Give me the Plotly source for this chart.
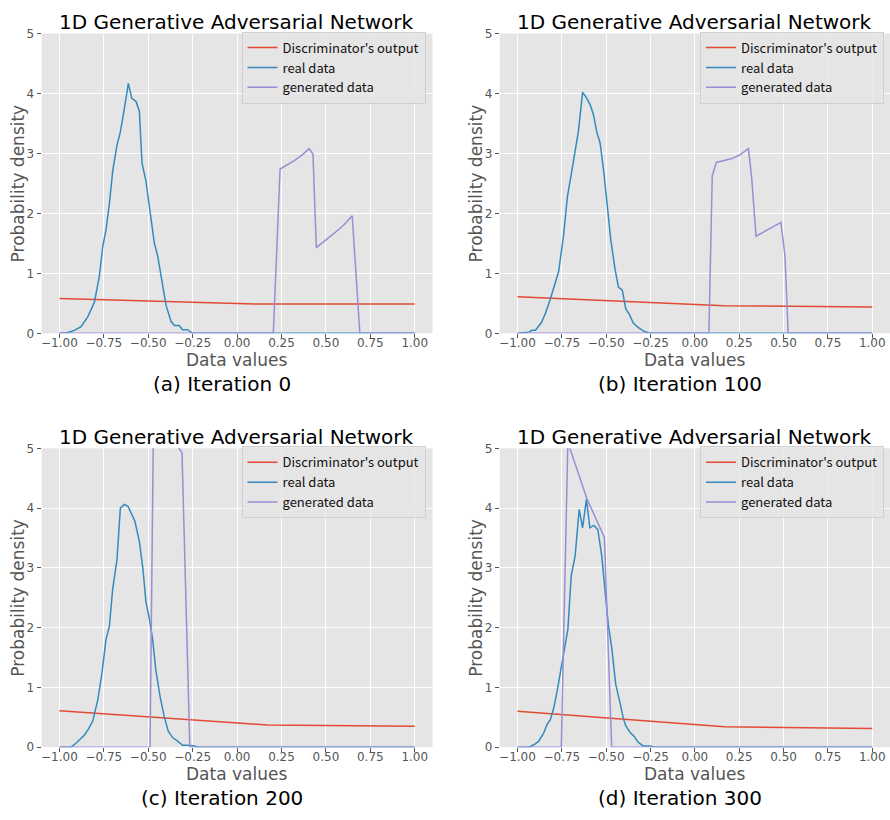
import plotly.graph_objects as go

# ---------------- data ----------------
# Panel (a) Iteration 0
real_x_a = [-1.0, -0.96, -0.934, -0.916, -0.878, -0.84, -0.803, -0.775, -0.756, -0.738, -0.719, -0.70,
            -0.676, -0.657, -0.635, -0.612, -0.593, -0.569, -0.55, -0.535, -0.513, -0.485, -0.466,
            -0.447, -0.419, -0.40, -0.372, -0.353, -0.326, -0.307, -0.279, -0.25, 1.0]
real_y_a = [0, 0.01, 0.03, 0.05, 0.11, 0.28, 0.52, 0.96, 1.45, 1.72, 2.16, 2.71,
            3.14, 3.36, 3.74, 4.17, 3.92, 3.87, 3.70, 2.84, 2.54, 1.94, 1.51,
            1.29, 0.80, 0.47, 0.20, 0.13, 0.13, 0.06, 0.06, 0, 0]
disc_x_a = [-1.0, 0.1, 1.0]
disc_y_a = [0.58, 0.49, 0.49]
gen_x_a = [-1.0, 0.204, 0.242, 0.322, 0.369, 0.405, 0.427, 0.446, 0.547, 0.602, 0.648, 0.691, 1.0]
gen_y_a = [0, 0, 2.74, 2.88, 2.98, 3.08, 2.99, 1.43, 1.67, 1.81, 1.96, 0, 0]

# Panel (b) Iteration 100
real_x_b = [-1.0, -0.936, -0.918, -0.899, -0.865, -0.843, -0.815, -0.787, -0.768, -0.74, -0.718, -0.693,
            -0.675, -0.656, -0.633, -0.609, -0.59, -0.572, -0.553, -0.534, -0.512, -0.493, -0.474,
            -0.45, -0.431, -0.409, -0.39, -0.37, -0.347, -0.32, -0.291, -0.263, -0.235, 1.0]
real_y_b = [0, 0.02, 0.05, 0.05, 0.18, 0.33, 0.57, 0.84, 1.03, 1.64, 2.29, 2.72,
            3.05, 3.38, 4.02, 3.92, 3.81, 3.65, 3.36, 3.17, 2.65, 2.05, 1.56,
            1.07, 0.77, 0.72, 0.41, 0.32, 0.17, 0.10, 0.04, 0.01, 0, 0]
disc_x_b = [-1.0, 0.167, 1.0]
disc_y_b = [0.61, 0.46, 0.44]
gen_x_b = [-1.0, 0.079, 0.098, 0.121, 0.205, 0.25, 0.302, 0.32, 0.345, 0.485, 0.508, 0.526, 1.0]
gen_y_b = [0, 0, 2.63, 2.85, 2.91, 2.97, 3.08, 2.60, 1.62, 1.85, 1.29, 0, 0]

# Panel (c) Iteration 200
real_x_c = [-1.0, -0.934, -0.906, -0.878, -0.86, -0.837, -0.812, -0.784, -0.76, -0.738, -0.719, -0.70,
            -0.676, -0.657, -0.635, -0.614, -0.597, -0.575, -0.55, -0.53, -0.513, -0.494, -0.475,
            -0.457, -0.433, -0.41, -0.388, -0.363, -0.335, -0.307, -0.279, -0.24, -0.22, 1.0]
real_y_c = [0, 0, 0.07, 0.16, 0.2, 0.3, 0.44, 0.79, 1.25, 1.80, 2.02, 2.65,
            3.14, 4.00, 4.06, 4.03, 3.93, 3.78, 3.44, 2.98, 2.43, 2.15, 1.80,
            1.28, 0.84, 0.51, 0.27, 0.16, 0.10, 0.03, 0.03, 0.02, 0, 0]
disc_x_c = [-1.0, 0.17, 1.0]
disc_y_c = [0.61, 0.37, 0.35]
gen_x_c = [-1.0, -0.49, -0.47, -0.35, -0.31, -0.266, 1.0]
gen_y_c = [0, 0, 5.6, 5.1, 4.93, 0, 0]

# Panel (d) Iteration 300
real_x_d = [-1.0, -0.936, -0.908, -0.88, -0.852, -0.833, -0.815, -0.796, -0.777, -0.759, -0.74, -0.716,
            -0.697, -0.675, -0.652, -0.633, -0.611, -0.592, -0.57, -0.547, -0.525, -0.506, -0.488,
            -0.469, -0.446, -0.422, -0.404, -0.39, -0.366, -0.342, -0.319, -0.291, -0.25, -0.23, 1.0]
real_y_d = [0, 0, 0.04, 0.1, 0.24, 0.38, 0.46, 0.65, 0.93, 1.23, 1.61, 1.97,
            2.87, 3.20, 3.98, 3.67, 4.15, 3.67, 3.71, 3.64, 3.20, 2.65, 2.05,
            1.67, 1.05, 0.74, 0.49, 0.36, 0.25, 0.18, 0.08, 0.02, 0.02, 0, 0]
disc_x_d = [-1.0, 0.167, 1.0]
disc_y_d = [0.60, 0.34, 0.31]
gen_x_d = [-1.0, -0.753, -0.716, -0.609, -0.51, -0.469, 1.0]
gen_y_d = [0, 0, 5.1, 4.16, 3.51, 0, 0]

x_tick_vals = [-1.0, -0.75, -0.5, -0.25, 0.0, 0.25, 0.5, 0.75, 1.0]
x_tick_text = ["\u22121.00", "\u22120.75", "\u22120.50", "\u22120.25", "0.00", "0.25", "0.50", "0.75", "1.00"]
y_tick_vals = [0, 1, 2, 3, 4, 5]

series_names = ["Discriminator's output", "real data", "generated data"]
chart_title = "1D Generative Adversarial Network"
x_label = "Data values"
y_label = "Probability density"
captions = ["(a) Iteration 0", "(b) Iteration 100", "(c) Iteration 200", "(d) Iteration 300"]

panels = [
    (disc_x_a, disc_y_a, real_x_a, real_y_a, gen_x_a, gen_y_a),
    (disc_x_b, disc_y_b, real_x_b, real_y_b, gen_x_b, gen_y_b),
    (disc_x_c, disc_y_c, real_x_c, real_y_c, gen_x_c, gen_y_c),
    (disc_x_d, disc_y_d, real_x_d, real_y_d, gen_x_d, gen_y_d),
]

# ---------------- layout (pixel geometry) ----------------
W, H = 890, 820
colors = ["#E24A33", "#348ABD", "#988ED5"]
# plot area in pixels: (left, right, top, bottom)
areas = [(40.7, 432.0, 27.0, 332.0), (499.3, 890.0, 27.0, 332.0),
         (40.7, 432.0, 449.0, 753.0), (499.3, 890.0, 449.0, 753.0)]
title_pos = [(236, 15), (694.5, 15), (236, 437), (694.5, 437)]
xlab_pos = [(236, 359), (694.5, 359), (236, 780), (694.5, 780)]
ylab_pos = [(17, 179.5), (475.5, 179.5), (17, 601), (475.5, 601)]
cap_pos = [(221, 384), (680, 384), (221, 805), (680, 805)]
legend_pos = [(425, 25), (884, 25), (425, 447), (884, 447)]

fig = go.Figure()
layout = dict(width=W, height=H, margin=dict(l=0, r=0, t=0, b=0),
              paper_bgcolor="white", plot_bgcolor="#E5E5E5", showlegend=True,
              annotations=[])

tick_font = dict(family="DejaVu Sans", size=12, color="#555555")

for i, (dx, dy, rx, ry, gx, gy) in enumerate(panels):
    k = "" if i == 0 else str(i + 1)
    lg = "legend" + k
    for name, xs, ys, c in zip(series_names, [dx, rx, gx], [dy, ry, gy], colors):
        fig.add_trace(go.Scatter(x=xs, y=ys, mode="lines", name=name,
                                 line=dict(color=c, width=1.5),
                                 xaxis="x" + k, yaxis="y" + k, legend=lg))
    l, r, t, b = areas[i]
    layout["xaxis" + k] = dict(domain=[l / W, r / W], anchor="y" + k, range=[-1.1, 1.1],
                               tickvals=x_tick_vals, ticktext=x_tick_text,
                               showgrid=True, gridcolor="white", gridwidth=1,
                               zeroline=False, showline=False, ticks="outside", ticklen=4,
                               ticklabelstandoff=-6,
                               tickcolor="#555555", tickfont=tick_font)
    layout["yaxis" + k] = dict(domain=[1 - b / H, 1 - t / H], anchor="x" + k, range=[0, 5],
                               tickvals=y_tick_vals, showgrid=True, gridcolor="white", gridwidth=1,
                               zeroline=False, showline=False, ticks="outside", ticklen=4,
                               tickcolor="#555555", tickfont=tick_font)
    lx, ly = legend_pos[i]
    layout[lg] = dict(x=lx / W, y=1 - ly / H, xanchor="right", yanchor="top",
                      bgcolor="rgba(229,229,229,0.8)", bordercolor="#D0D0D0", borderwidth=1,
                      font=dict(family="Noto Sans CJK SC", size=13, color="#111111"),
                      tracegroupgap=0)
    tx, ty = title_pos[i]
    layout["annotations"].append(dict(text=chart_title, x=tx / W, y=1 - ty / H, xref="paper", yref="paper",
                                      xanchor="center", yanchor="middle", showarrow=False,
                                      font=dict(family="DejaVu Sans", size=20, color="black")))
    ax_, ay_ = xlab_pos[i]
    layout["annotations"].append(dict(text=x_label, x=ax_ / W, y=1 - ay_ / H, xref="paper", yref="paper",
                                      xanchor="center", yanchor="middle", showarrow=False,
                                      font=dict(family="DejaVu Sans", size=17, color="#555555")))
    yx_, yy_ = ylab_pos[i]
    layout["annotations"].append(dict(text=y_label, x=yx_ / W, y=1 - yy_ / H, xref="paper", yref="paper",
                                      xanchor="center", yanchor="middle", showarrow=False, textangle=-90,
                                      font=dict(family="DejaVu Sans", size=17, color="#555555")))
    cx, cy = cap_pos[i]
    layout["annotations"].append(dict(text=captions[i], x=cx / W, y=1 - cy / H, xref="paper", yref="paper",
                                      xanchor="center", yanchor="middle", showarrow=False,
                                      font=dict(family="DejaVu Sans", size=20, color="black")))

fig.update_layout(**layout)
fig.write_html("out.html")
